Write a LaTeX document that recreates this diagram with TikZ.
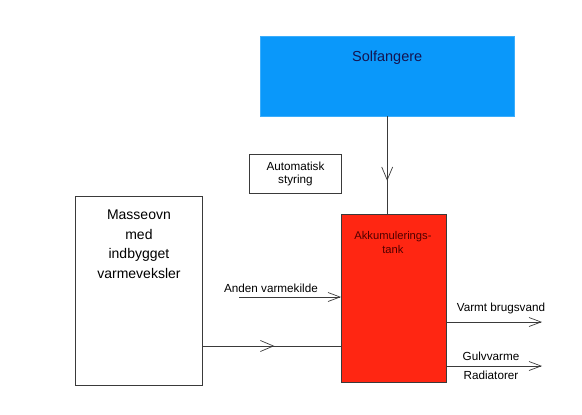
\documentclass[tikz,border=0pt]{standalone}
\usepackage{fontspec}
\setmainfont{Liberation Sans}
\usepackage{xcolor}
\usepackage{tikz}
\usetikzlibrary{arrows.meta,positioning,decorations.markings}

\definecolor{solblue}{HTML}{0A98FA}
\definecolor{tankred}{HTML}{FF2612}
\definecolor{linegray}{HTML}{3A3A3A}

\begin{document}
\begin{tikzpicture}[
    x=1pt, y=-1pt,
    box/.style={draw=linegray, line width=0.9pt, fill=white,
                inner sep=0pt, align=center},
    solar/.style={draw=solblue!80!white, fill=solblue, inner sep=0pt},
    tank/.style={draw=linegray, line width=0.9pt, fill=tankred, inner sep=0pt},
    pipe/.style={draw=linegray, line width=0.9pt},
    arrow/.style={pipe, -{Straight Barb[length=12pt, width=9pt, line width=0.7pt]}},
    midarrow/.style={pipe, postaction={decorate, decoration={markings,
        mark=at position #1 with {\arrow{Straight Barb[length=13pt, width=11pt, line width=0.7pt]}}}}},
    lbl/.style={font=\fontsize{11.7}{14}\selectfont, inner sep=0pt, align=center}
  ]
  \useasboundingbox (0,0) rectangle (582,415);

  \node[solar, minimum width=254pt, minimum height=80pt, anchor=north west,
        label={[lbl, font=\fontsize{14.5}{17}\selectfont, text={rgb,255:red,20;green,20;blue,80},
                below=15pt]north:Solfangere}] (sol) at (260,36) {};

  \node[box, minimum width=92pt, minimum height=39pt, anchor=north west,
        font=\fontsize{11.7}{14}\selectfont] (ctrl) at (249,154) {Automatisk\\[-1pt]styring};

  \node[box, minimum width=127pt, minimum height=189pt, anchor=north west,
        label={[lbl, font=\fontsize{14}{19.5}\selectfont, below=14pt]north:Masseovn\\med\\indbygget\\varmeveksler}] (ovn) at (75,196) {};

  \node[tank, minimum width=105pt, minimum height=168pt, anchor=north west,
        label={[lbl, font=\fontsize{11.2}{14}\selectfont, text={rgb,255:red,80;green,0;blue,0},
                below=17pt, xshift=-1pt]north:Akkumulerings-\\tank}] (tank) at (341,214) {};

  % pipes into the tank
  \draw[midarrow=0.66] (sol.south) -- (sol.south |- tank.north);

  \coordinate (other) at (239,297);
  \draw[arrow] (other) -- (other -| tank.west);
  \node[lbl, anchor=south] (otherlbl) at (271,293) {Anden varmekilde};

  \coordinate (feed) at (202,346);
  \draw[midarrow=0.52] (feed) -- (feed -| tank.west);

  % pipes out of the tank
  \coordinate (hot) at (542,322);
  \draw[arrow] (tank.east |- hot) -- (hot);
  \node[lbl, anchor=south] (hotlbl) at (501,314) {Varmt brugsvand};

  \coordinate (heat) at (542,366);
  \draw[arrow] (tank.east |- heat) -- (heat);
  \node[lbl, anchor=south] (heatlbl) at (491,361) {Gulvvarme};
  \node[lbl, anchor=north] (radlbl) at (491,371) {Radiatorer};

\end{tikzpicture}
\end{document}
